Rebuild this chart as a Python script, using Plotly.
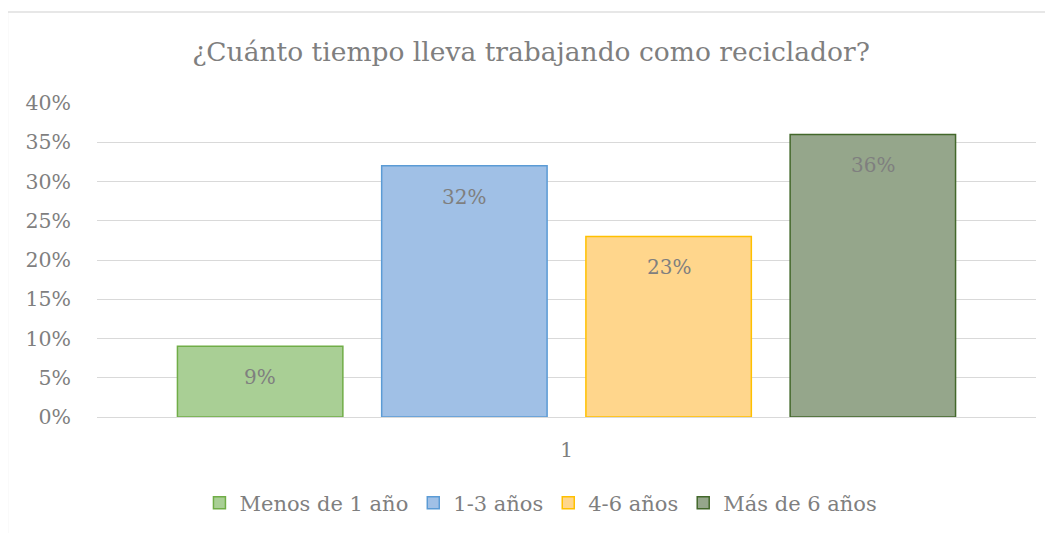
import plotly.graph_objects as go

categories = ["1"]
series_names = ["Menos de 1 año", "1-3 años", "4-6 años", "Más de 6 años"]
values = [0.09, 0.32, 0.23, 0.36]
fill_colors = ["#a9cf95", "#a0c0e6", "#ffd68c", "#95a68b"]
line_colors = ["#70ad47", "#5b9bd5", "#ffc000", "#43682b"]
y_ticks = [0, 0.05, 0.10, 0.15, 0.20, 0.25, 0.30, 0.35, 0.40]
y_tick_labels = ["0%", "5%", "10%", "15%", "20%", "25%", "30%", "35%", "40%"]

FONT = "DejaVu Serif"
GRAY = "#7f7f7f"
BARGAP = 0.13
BARGROUPGAP = 0.19

fig = go.Figure()
for name, v, fc, lc in zip(series_names, values, fill_colors, line_colors):
    fig.add_trace(go.Bar(
        x=categories, y=[v], name=name,
        marker=dict(color=fc, line=dict(color=lc, width=1.5)),
        hoverinfo="name+y",
    ))

n = len(series_names)
slot = (1 - BARGAP) / n
for i, v in enumerate(values):
    fig.add_annotation(
        x=(i - (n - 1) / 2) * slot, y=v, xref="x", yref="y",
        text=f"{round(v*100)}%", showarrow=False, yshift=-31,
        font=dict(family=FONT, size=20, color=GRAY),
    )

fig.add_shape(type="rect", xref="paper", yref="paper",
              x0=-0.0953, x1=1.03, y0=-0.40, y1=1.2898,
              line=dict(color="#d0d0d0", width=1.2), layer="below")

fig.update_layout(
    width=1045, height=525, autosize=False,
    margin=dict(l=89, r=17, t=95, b=116),
    paper_bgcolor="white", plot_bgcolor="white",
    barmode="group", bargap=BARGAP, bargroupgap=BARGROUPGAP,
    font=dict(family=FONT, size=20, color=GRAY),
    title=dict(text="¿Cuánto tiempo lleva trabajando como reciclador?",
               x=0.5005, xref="container", y=0.916, yref="container",
               xanchor="center", yanchor="middle",
               font=dict(family=FONT, size=26.5, color=GRAY)),
    legend=dict(orientation="h", x=0.51, xref="container", xanchor="center",
                y=0.0571, yref="container", yanchor="middle",
                font=dict(family=FONT, size=21, color=GRAY),
                itemclick=False, itemdoubleclick=False),
    xaxis=dict(showgrid=False, showline=False, ticks="",
               tickfont=dict(family=FONT, size=20, color=GRAY),
               ticklabelstandoff=19),
    yaxis=dict(range=[0, 0.40], tickvals=y_ticks, ticktext=y_tick_labels,
               showgrid=True, gridcolor="#d9d9d9", gridwidth=1,
               zeroline=True, zerolinecolor="#d9d9d9", zerolinewidth=1,
               showline=False, ticks="",
               tickfont=dict(family=FONT, size=20.5, color=GRAY),
               ticklabelstandoff=25),
    showlegend=True,
)

fig.write_html("out.html")
